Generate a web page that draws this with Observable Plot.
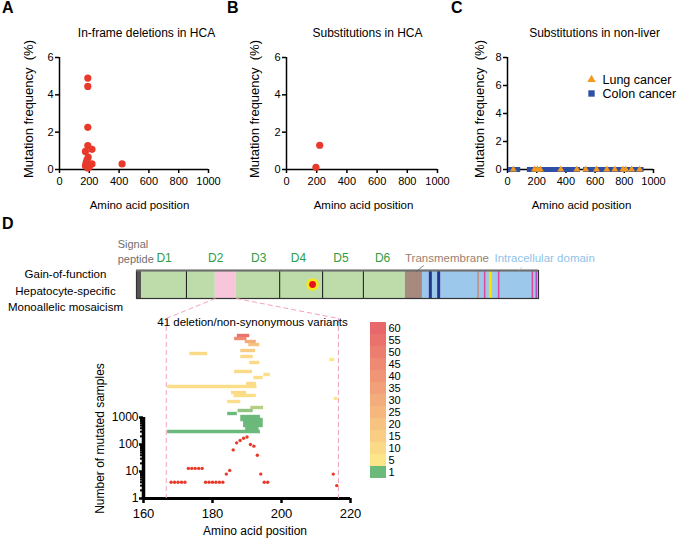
<!DOCTYPE html>
<html>
<head>
<meta charset="utf-8">
<script src="https://cdn.jsdelivr.net/npm/d3@7"></script>
<script src="https://cdn.jsdelivr.net/npm/@observablehq/plot@0.6"></script>
<style>
  html,body{margin:0;padding:0;background:#fff;}
  #fig{position:relative;width:677px;height:550px;overflow:hidden;font-family:"Liberation Sans",Arial,Helvetica,sans-serif;color:#000;}
  .plab{position:absolute;font-weight:bold;font-size:16px;line-height:16px;}
  .side{position:absolute;left:0;width:131px;text-align:center;font-size:11.5px;line-height:16.5px;}
</style>
</head>
<body>
<div id="fig">
  <div class="plab" style="left:2px;top:0px">A</div>
  <div class="plab" style="left:227px;top:0px">B</div>
  <div class="plab" style="left:451px;top:0px">C</div>
  <div class="plab" style="left:2px;top:216px">D</div>
  <div class="side" style="top:266px">Gain-of-function<br>Hepatocyte-specific<br>Monoallelic mosaicism</div>
</div>
<script>
const FONT = '"Liberation Sans", Arial, Helvetica, sans-serif';
const RED = "#e8392b", ORANGE = "#f39a1e", BLUE = "#2e4fa3", PINK = "#f3a3c0";

// ---------- Panels A–C data ----------
const aaTicks = [0, 200, 400, 600, 800, 1000];
const freqTicks6 = [0, 2, 4, 6];
const freqTicks8 = [0, 2, 4, 6, 8];
const yTitle = "Mutation frequency  (%)";
const xTitle = "Amino acid position";

// A: in-frame deletions in HCA
const aPos  = [190, 190, 190, 190, 218, 174, 192, 178, 218, 174, 190, 184, 200, 420];
const aFreq = [4.9, 4.45, 2.26, 1.28, 1.08, 0.97, 0.66, 0.35, 0.3, 0.2, 0.08, 0.5, 0.15, 0.3];
// B: substitutions in HCA
const bPos  = [195, 220];
const bFreq = [0.12, 1.3];
// C: substitutions in non-liver
const lungPos  = [40, 185, 205, 225, 365, 475, 535, 610, 680, 735, 790, 810, 850, 905];
const colonPos = [20, 45, 70, 150, 170, 190, 210, 230, 250, 270, 290, 320, 340, 360, 380, 400, 420, 440, 460, 480,
                  535, 555, 575, 595, 615, 635, 655, 675, 695, 715, 735, 755, 775, 795, 815, 835, 855, 875, 895, 915];
const nonLiverFreq = 0;
const legendItems = ["Lung cancer", "Colon cancer"];

// ---------- Panel D: protein scheme ----------
const proteinLength = 918;
const domStart = [0, 12, 114, 180, 228, 327, 425, 518, 614, 653];
const domEnd   = [12, 114, 180, 228, 327, 425, 518, 614, 653, 918];
const domFill  = ["#555555", "#bddcaa", "#bddcaa", "#f7c6da", "#bddcaa", "#bddcaa", "#bddcaa", "#bddcaa", "#a68a7d", "#9cc8ec"];
const domDividers = [114, 327, 425, 518];
const sitePos   = [671, 690, 780, 795, 808, 827, 904, 913];
const siteColor = ["#27358c", "#27358c", "#c58a76", "#e0449c", "#f5e500", "#e0449c", "#e0449c", "#b04ac0"];
const siteWidth = [3, 3, 1.5, 1.5, 3, 1.5, 1.5, 1.5];
const hotspotPos = [402];
const domLabels = ["D1", "D2", "D3", "D4", "D5", "D6"];
const domLabelPos = [63, 181, 279, 370, 467, 562];
const tmLabelPos = 709, icLabelPos = 932, spLabelPos = -43;
const pinkRegion = [180, 228];

// ---------- Panel D: zoomed window ----------
const zoomWindow = [166.6, 216.5];
const zoomTicks = [160, 180, 200, 220];
const logTicks = [1, 10, 100, 1000];
const logMinor = [2,3,4,5,6,7,8,9,20,30,40,50,60,70,80,90,200,300,400,500,600,700,800,900];
const samplePos = [168,169,170,171,172,173,174,175,176,177,178,179,180,181,182,183,184,185,186,187,188,189,190,191,192,193,194,195,196,215,216];
const sampleN   = [4,4,4,4,4,13,13,13,13,13,4,4,4,4,4,4,8,11,63,115,140,170,190,100,87,40,8,4,4,8,3];

// deletion / variant spans (row = stacking row, count = number of samples)
const varRow   = [32, 31, 30, 29, 27, 26, 25, 24, 23, 20, 19, 18, 16, 15, 13, 12, 11, 10, 8, 7, 6, 5, 4, 3, 2, 1, 0];
const varStart = [187.2, 186.4, 189.5, 190.5, 188.2, 173.4, 188.2, 214.0, 190.8, 186.4, 194.9, 192.0, 189.9, 167.0, 185.5, 186.2, 215.3, 184.4, 191.1, 187.4, 184.4, 188.2, 188.2, 189.0, 189.0, 189.6, 167.0];
const varEnd   = [190.8, 190.0, 192.7, 193.7, 192.5, 178.6, 191.8, 215.4, 193.7, 191.6, 196.8, 194.7, 192.7, 192.9, 189.9, 192.7, 216.4, 188.2, 194.8, 191.8, 187.2, 193.9, 194.7, 194.7, 194.7, 193.5, 193.9];
const varCount = [55, 45, 30, 20, 15, 10, 10, 5, 10, 10, 7, 8, 10, 8, 10, 8, 5, 8, 3, 2, 1, 1, 1, 1, 1, 1, 1];

// colour bar
const cbValues = [60, 55, 50, 45, 40, 35, 30, 25, 20, 15, 10, 5, 1];
const colorDomain = [1, 5, 60];
const colorRange = ["#6cb97c", "#fde58a", "#e8676a"];

// ---------- helpers ----------
const fig = document.getElementById("fig");
function place(el, left, top) {
  el.style.position = "absolute";
  el.style.left = left + "px";
  el.style.top = top + "px";
  fig.appendChild(el);
  return el;
}
const baseStyle = (fs) => ({fontFamily: FONT, fontSize: fs, background: "transparent", overflow: "visible", color: "#000"});
const colorSpec = {type: "linear", domain: colorDomain, range: colorRange, interpolate: "rgb"};
const plain = d => String(d);

function freqPanel(o) {
  return Plot.plot({
    width: o.width, height: 225,
    marginLeft: o.ml, marginRight: o.mr, marginTop: 57, marginBottom: 56,
    style: baseStyle("11px"),
    x: {domain: [0, 1000]},
    y: {domain: [0, o.yMax]},
    marks: [
      Plot.ruleX([0], {strokeWidth: 1.5}),
      Plot.ruleY([0], {strokeWidth: 1.5}),
      Plot.axisX({ticks: aaTicks, tickFormat: plain, tickSize: 4, tickPadding: 4, strokeWidth: 1.5, label: null, fontSize: 11}),
      Plot.axisY({ticks: o.yTicks, tickFormat: plain, tickSize: 4, tickPadding: 2, strokeWidth: 1.5, label: null, fontSize: 11}),
      ...o.marks,
      Plot.text([o.title], {text: d => d, frameAnchor: "top", lineAnchor: "middle", dx: o.tdx, dy: -24, fontSize: 12}),
      Plot.text([yTitle], {text: d => d, frameAnchor: "left", textAnchor: "middle", lineAnchor: "middle", dx: o.ydx, dy: -4.5, rotate: -90, fontSize: 13}),
      Plot.text([xTitle], {text: d => d, frameAnchor: "bottom", lineAnchor: "middle", dx: o.xdx, dy: 36, fontSize: 11.5})
    ]
  });
}

// Panel A
place(freqPanel({
  width: 225, ml: 59, mr: 17, yMax: 6, yTicks: freqTicks6,
  title: "In-frame deletions in HCA", tdx: 12.5, ydx: -31, xdx: 5.5,
  marks: [Plot.dot(aPos.map((x, i) => ({x, y: aFreq[i]})), {x: "x", y: "y", r: 3.6, fill: RED})]
}), 0, 0);

// Panel B
place(freqPanel({
  width: 225, ml: 61, mr: 13, yMax: 6, yTicks: freqTicks6,
  title: "Substitutions in HCA", tdx: 5.5, ydx: -31.5, xdx: 1.5,
  marks: [Plot.dot(bPos.map((x, i) => ({x, y: bFreq[i]})), {x: "x", y: "y", r: 3.6, fill: RED})]
}), 225, 0);

// Panel C
place(freqPanel({
  width: 227, ml: 57, mr: 24, yMax: 8, yTicks: freqTicks8,
  title: "Substitutions in non-liver", tdx: 14, ydx: -27.5, xdx: 1,
  marks: [
    Plot.dot(colonPos, {x: d => d, y: nonLiverFreq, symbol: "square", r: 2.8, fill: BLUE}),
    Plot.dot(lungPos, {x: d => d, y: nonLiverFreq, symbol: "triangle", r: 2.6, fill: ORANGE})
  ]
}), 450, 0);

// Legend for C
place(Plot.plot({
  width: 92, height: 32, marginLeft: 6, marginRight: 0, marginTop: 0, marginBottom: 0,
  style: baseStyle("12.5px"),
  y: {type: "point", domain: legendItems, range: [9, 23], padding: 0, axis: null},
  marks: [
    Plot.dot([legendItems[0]], {y: d => d, frameAnchor: "left", symbol: "triangle", r: 3.1, fill: ORANGE}),
    Plot.dot([legendItems[1]], {y: d => d, frameAnchor: "left", symbol: "square", r: 3.6, fill: BLUE}),
    Plot.text(legendItems, {y: d => d, text: d => d, frameAnchor: "left", dx: 11, textAnchor: "start", lineAnchor: "middle", fontSize: 12.5})
  ]
}), 585, 70);

// Protein scheme
const PROT = {left: 0, top: 230};
const domains = domStart.map((s, i) => ({start: s, end: domEnd[i], fill: domFill[i]}));
const sites = sitePos.map((p, i) => ({pos: p, color: siteColor[i], width: siteWidth[i]}));
const lblOpts = {frameAnchor: "top", lineAnchor: "middle", dy: -12};
const prot = Plot.plot({
  width: 677, height: 90, marginLeft: 136, marginRight: 139, marginTop: 40, marginBottom: 22,
  style: baseStyle("11px"),
  x: {domain: [0, proteinLength], axis: null},
  y: {domain: [0, 1], axis: null},
  color: {type: "identity"},
  marks: [
    Plot.rect(domains, {x1: "start", x2: "end", fill: "fill"}),
    Plot.ruleX(domDividers, {stroke: "#111", strokeWidth: 1}),
    Plot.ruleX(sites, {x: "pos", stroke: "color", strokeWidth: "width"}),
    Plot.frame({stroke: "#333", strokeWidth: 1.2}),
    Plot.ruleY([1], {stroke: "#6e6e6e", strokeWidth: 2.2}),
    Plot.dot(hotspotPos, {x: d => d, r: 6.2, fill: "#f6e61a"}),
    Plot.dot(hotspotPos, {x: d => d, r: 3.4, fill: "#e4101b"}),
    Plot.text(domLabels, {...lblOpts, x: (d, i) => domLabelPos[i], text: d => d, fill: "#2e9c45", fontSize: 12}),
    Plot.text(["Transmembrane"], {...lblOpts, x: tmLabelPos, text: d => d, fill: "#9b7f72", fontSize: 11.5}),
    Plot.text(["Intracellular domain"], {...lblOpts, x: icLabelPos, text: d => d, fill: "#8fc3ea", fontSize: 11.5}),
    Plot.text(["Signal\npeptide"], {x: spLabelPos, text: d => d, frameAnchor: "top", lineAnchor: "middle", dy: -19.5, textAnchor: "start", lineHeight: 1.36, fill: "#707070", fontSize: 11}),
    Plot.link([{x1: 656, y1: 1.18, x2: 637, y2: 0.94}], {x1: "x1", y1: "y1", x2: "x2", y2: "y2", stroke: "#666", strokeWidth: 0.8}),
    Plot.link([{x1: 881, y1: 1.12, x2: 873, y2: 1.0}], {x1: "x1", y1: "y1", x2: "x2", y2: "y2", stroke: "#8fc3ea", strokeWidth: 0.8})
  ]
});
place(prot, PROT.left, PROT.top);

// Lower zoomed chart: log counts
const LOW = {left: 0, top: 300, width: 400, height: 250, ml: 143, mr: 50, mb: 52};
const samples = samplePos.map((p, i) => ({pos: p, n: sampleN[i]}));
const logPlot = Plot.plot({
  width: LOW.width, height: LOW.height, marginLeft: LOW.ml, marginRight: LOW.mr, marginTop: 117, marginBottom: LOW.mb,
  style: baseStyle("13px"),
  x: {domain: [160, 220]},
  y: {type: "log", domain: [1, 1000]},
  marks: [
    Plot.axisX({ticks: zoomTicks, tickFormat: plain, tickSize: 5, tickPadding: 5, strokeWidth: 2.5, label: null, fontSize: 13}),
    Plot.axisY({ticks: logTicks, tickFormat: plain, tickSize: 4, tickPadding: 1, strokeWidth: 2.5, label: null, fontSize: 12}),
    Plot.axisY({ticks: logMinor, tickFormat: () => "", tickSize: 3, strokeWidth: 2, label: null}),
    Plot.ruleX([160], {strokeWidth: 3.5}),
    Plot.ruleY([1], {strokeWidth: 3}),
    Plot.dot(samples, {x: "pos", y: "n", r: 1.7, fill: RED}),
    Plot.text(["Number of mutated samples"], {text: d => d, frameAnchor: "left", textAnchor: "middle", lineAnchor: "middle", dx: -43, dy: -19.5, rotate: -90, fontSize: 12}),
    Plot.text([xTitle], {text: d => d, frameAnchor: "bottom", lineAnchor: "middle", dx: 8, dy: 33, fontSize: 12})
  ]
});
place(logPlot, LOW.left, LOW.top);

// Variant spans overlay (same x geometry)
const BARS_MT = 18;
const variants = varRow.map((r, i) => ({row: r, start: varStart[i], end: varEnd[i], count: varCount[i]}));
const bars = Plot.plot({
  width: LOW.width, height: LOW.height, marginLeft: LOW.ml, marginRight: LOW.mr, marginTop: BARS_MT, marginBottom: LOW.mb,
  style: baseStyle("11.5px"),
  x: {domain: [160, 220], axis: null},
  y: {domain: [0, 32], range: [131, 35], axis: null},
  color: colorSpec,
  marks: [
    Plot.ruleX(zoomWindow, {stroke: PINK, strokeWidth: 1, strokeDasharray: "5,3"}),
    Plot.ruleY(variants, {y: "row", x1: "start", x2: "end", stroke: "count", strokeWidth: 3.4}),
    Plot.text(["41 deletion/non-synonymous variants"], {text: d => d, frameAnchor: "top", lineAnchor: "middle", dx: 5.5, dy: 4, fontSize: 11.5})
  ]
});
place(bars, LOW.left, LOW.top);

// Colour bar
place(Plot.plot({
  width: 80, height: 200, marginLeft: 30, marginRight: 34, marginTop: 19, marginBottom: 19,
  style: baseStyle("11px"),
  y: {type: "band", domain: cbValues.map(String), padding: 0},
  color: colorSpec,
  marks: [
    Plot.cell(cbValues, {y: d => String(d), fill: d => d}),
    Plot.axisY({anchor: "right", tickSize: 0, tickPadding: 2, fontSize: 11, label: null})
  ]
}), 340, 300);

// Connecting dashed lines (positions from the two charts' scales)
const px = prot.scale("x"), py = prot.scale("y"), zx = bars.scale("x");
const connectors = pinkRegion.map((aa, i) => ({
  x1: PROT.left + px.apply(aa), y1: PROT.top + py.apply(0),
  x2: LOW.left + zx.apply(zoomWindow[i]), y2: LOW.top + BARS_MT
}));
const overlay = Plot.plot({
  width: 677, height: 550, margin: 0,
  style: {background: "transparent", pointerEvents: "none"},
  x: {type: "identity", axis: null},
  y: {type: "identity", axis: null},
  marks: [Plot.link(connectors, {x1: "x1", y1: "y1", x2: "x2", y2: "y2", stroke: PINK, strokeWidth: 1, strokeDasharray: "5,3"})]
});
place(overlay, 0, 0);
</script>
</body>
</html>
